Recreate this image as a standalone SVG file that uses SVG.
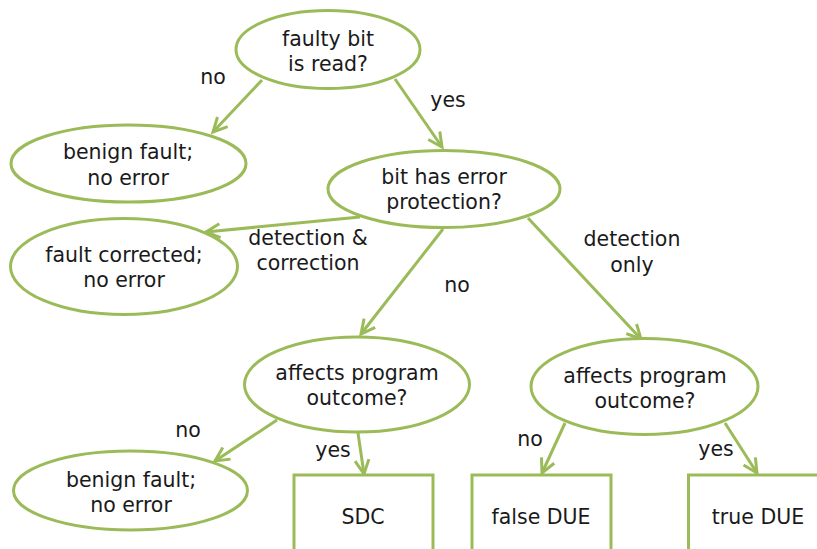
<svg xmlns="http://www.w3.org/2000/svg" width="817" height="549" viewBox="0 0 817 549">
<defs>
<style>
.n{fill:#fff;stroke:#9BBB59;stroke-width:3}
.c{fill:none;stroke:#9BBB59;stroke-width:3}
text{font-family:"DejaVu Sans",sans-serif;font-size:20.5px;fill:#1a1a1a;text-anchor:middle}
</style>
<marker id="a" viewBox="0 0 20 20" refX="17" refY="10" markerWidth="20" markerHeight="20" markerUnits="userSpaceOnUse" orient="auto">
<path d="M3,3 L17,10 L3,17" fill="none" stroke="#9BBB59" stroke-width="3"/>
</marker>
</defs>
<rect width="817" height="549" fill="#fff"/>
<g id="connectors">
<line class="c" x1="262" y1="80" x2="213" y2="132" marker-end="url(#a)"/>
<line class="c" x1="395" y1="79" x2="442" y2="147" marker-end="url(#a)"/>
<line class="c" x1="360" y1="217" x2="206" y2="232" marker-end="url(#a)"/>
<line class="c" x1="443" y1="229" x2="361" y2="334" marker-end="url(#a)"/>
<line class="c" x1="528" y1="218" x2="641" y2="339" marker-end="url(#a)"/>
<line class="c" x1="277" y1="420" x2="215" y2="461" marker-end="url(#a)"/>
<line class="c" x1="358" y1="433" x2="364" y2="474" marker-end="url(#a)"/>
<line class="c" x1="565" y1="423" x2="542" y2="473" marker-end="url(#a)"/>
<line class="c" x1="725" y1="423" x2="757" y2="473" marker-end="url(#a)"/>
</g>
<g id="labels">
<text x="213" y="84">no</text>
<text x="448" y="107">yes</text>
<text x="308" y="245">detection &amp;</text>
<text x="308" y="270">correction</text>
<text x="457" y="292">no</text>
<text x="632" y="246">detection</text>
<text x="632" y="272">only</text>
<text x="188" y="437">no</text>
<text x="333" y="457">yes</text>
<text x="530" y="446">no</text>
<text x="716" y="456">yes</text>
</g>
<g id="n1"><ellipse class="n" cx="328" cy="49.5" rx="92" ry="39"/><text x="328" y="46">faulty bit</text><text x="328" y="71">is read?</text></g>
<g id="n2"><ellipse class="n" cx="128.5" cy="163.5" rx="117.5" ry="38.5"/><text x="128" y="159">benign fault;</text><text x="128" y="185">no error</text></g>
<g id="n3"><ellipse class="n" cx="124" cy="266.5" rx="113.5" ry="48"/><text x="124" y="262">fault corrected;</text><text x="124" y="287">no error</text></g>
<g id="n4"><ellipse class="n" cx="444" cy="189" rx="116" ry="38.5"/><text x="444" y="184">bit has error</text><text x="444" y="209">protection?</text></g>
<g id="n5"><ellipse class="n" cx="357" cy="384.5" rx="112.5" ry="47.5"/><text x="357" y="380">affects program</text><text x="357" y="405">outcome?</text></g>
<g id="n6"><ellipse class="n" cx="644.5" cy="386.5" rx="113.5" ry="48"/><text x="645" y="383">affects program</text><text x="645" y="408">outcome?</text></g>
<g id="n7"><ellipse class="n" cx="130.5" cy="490.5" rx="117" ry="39.5"/><text x="131" y="487">benign fault;</text><text x="131" y="512">no error</text></g>
<g id="n8"><rect class="n" x="294" y="475" width="139" height="90"/><text x="363" y="524">SDC</text></g>
<g id="n9"><rect class="n" x="472" y="475" width="139" height="90"/><text x="541" y="524">false DUE</text></g>
<g id="n10"><rect class="n" x="688.5" y="475" width="139" height="90"/><text x="758" y="524">true DUE</text></g>
</svg>
